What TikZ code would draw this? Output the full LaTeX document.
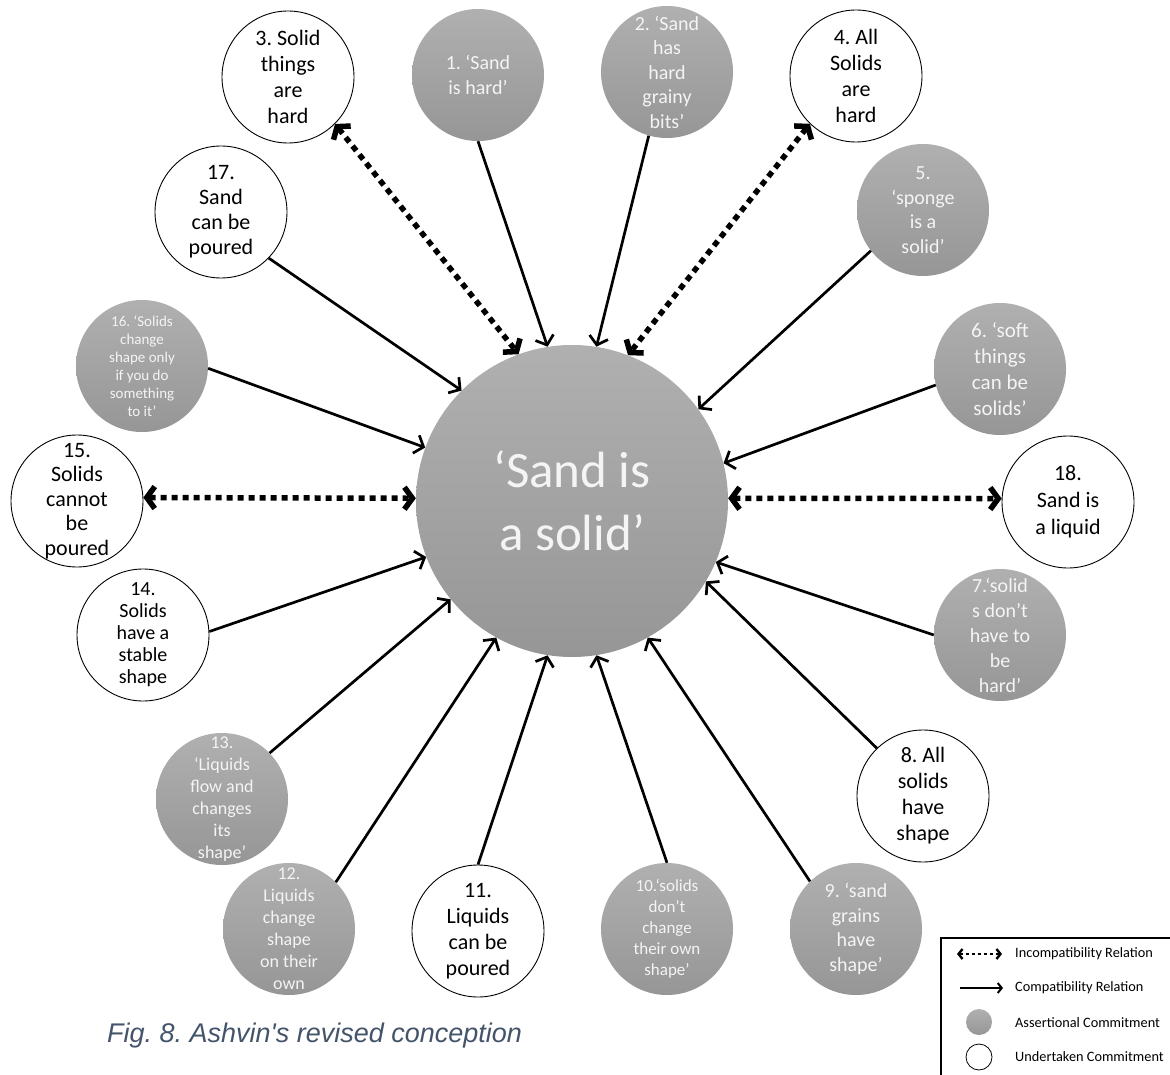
\documentclass[tikz,border=0pt]{standalone}
\usepackage{fontspec}
\setmainfont{Carlito}
\newfontfamily\capfont{Liberation Sans}
\usetikzlibrary{arrows.meta}
\definecolor{gtop}{HTML}{B0B0B0}
\definecolor{gbot}{HTML}{969696}
\definecolor{wtx}{HTML}{F4F4F4}
\definecolor{capcol}{HTML}{44546A}
\frenchspacing
\tikzset{
  base/.style={circle, minimum size=132pt, inner sep=0pt},
  assert/.style={base, top color=gtop, bottom color=gbot, draw=none},
  under/.style={base, draw=black, line width=0.9pt, fill=white},
  wtxt/.style={text=wtx, align=center, inner sep=0pt},
  btxt/.style={text=black, align=center, inner sep=0pt},
  comp/.style={line width=2.7pt, -{Straight Barb[length=8pt,width=19pt]}},
  incomp/.style={line width=5.5pt, dash pattern=on 6pt off 5pt,
     {Straight Barb[length=8pt,width=22pt]}-{Straight Barb[length=8pt,width=22pt]}},
  legtxt/.style={anchor=west, inner sep=0pt, font=\fontsize{14.3}{17}\selectfont},
}
\begin{document}
\begin{tikzpicture}[x=1pt,y=-1pt]
\useasboundingbox (0,0) rectangle (1170,1075);
\clip (0,0) rectangle (1170,1075);
\fill[white] (0,0) rectangle (1170,1075);

% central
\node[assert, minimum size=312pt, label={[wtxt, font=\fontsize{51}{63}\selectfont]center:{‘Sand is\\a solid’}}] (c) at (572,501) {};

% assertional (grey)
\node[assert, label={[wtxt, font=\fontsize{20}{24.5}\selectfont]center:{1. ‘Sand\\is hard’}}] (n1) at (478,75) {};
\node[assert, label={[wtxt, font=\fontsize{20}{24.5}\selectfont]center:{2. ‘Sand\\has\\hard\\grainy\\bits’}}] (n2) at (667,72) {};
\node[assert, label={[wtxt, font=\fontsize{20}{24.5}\selectfont]center:{5.\\‘sponge\\is a\\solid’}}] (n5) at (923,210) {};
\node[assert, label={[wtxt, font=\fontsize{21}{26}\selectfont]center:{6. ‘soft\\things\\can be\\solids’}}] (n6) at (1000,369) {};
\node[assert, label={[wtxt, font=\fontsize{20}{25}\selectfont]center:{7.‘solid\\s don’t\\have to\\be\\hard’}}] (n7) at (1000,635) {};
\node[assert, label={[wtxt, font=\fontsize{20}{24.5}\selectfont]center:{9. ‘sand\\grains\\have\\shape’}}] (n9) at (856,929) {};
\node[assert, label={[wtxt, font=\fontsize{17}{21}\selectfont]center:{10.‘solids\\don’t\\change\\their own\\shape’}}] (n10) at (667,929) {};
\node[assert, label={[wtxt, font=\fontsize{18}{22}\selectfont]center:{12.\\Liquids\\change\\shape\\on their\\own}}] (n12) at (289,929) {};
\node[assert, label={[wtxt, font=\fontsize{18}{22}\selectfont]center:{13.\\‘Liquids\\flow and\\changes\\its\\shape’}}] (n13) at (222,799) {};
\node[assert, label={[wtxt, font=\fontsize{15}{18}\selectfont]center:{16. ‘Solids\\change\\shape only\\if you do\\something\\to it’}}] (n16) at (142,366) {};

% undertaken (white)
\node[under, label={[btxt, font=\fontsize{22}{26}\selectfont]center:{3. Solid\\things\\are\\hard}}] (n3) at (288,77) {};
\node[under, label={[btxt, font=\fontsize{22}{26}\selectfont]center:{4. All\\Solids\\are\\hard}}] (n4) at (856,76) {};
\node[under, label={[btxt, font=\fontsize{22}{26}\selectfont]center:{8. All\\solids\\have\\shape}}] (n8) at (923,796) {};
\node[under, label={[btxt, font=\fontsize{22}{26}\selectfont]center:{11.\\Liquids\\can be\\poured}}] (n11) at (478,931) {};
\node[under, label={[btxt, font=\fontsize{20}{22}\selectfont]center:{14.\\Solids\\have a\\stable\\shape}}] (n14) at (143,635) {};
\node[under, label={[btxt, font=\fontsize{22}{24.5}\selectfont]center:{15.\\Solids\\cannot\\be\\poured}}] (n15) at (77,501) {};
\node[under, label={[btxt, font=\fontsize{22}{25}\selectfont]center:{17.\\Sand\\can be\\poured}}] (n17) at (221,212) {};
\node[under, label={[btxt, font=\fontsize{22}{27}\selectfont]center:{18.\\Sand is\\a liquid}}] (n18) at (1068,502) {};

% compatibility relations
\draw[comp] (n1.270) -- (c.99);
\draw[comp] (n2.254) -- (c.81);
\draw[comp] (n5.218) -- (c.36);
\draw[comp] (n6.194) -- (c.14);
\draw[comp] (n7.180) -- (c.-23);
\draw[comp] (n8.134) -- (c.-31);
\draw[comp] (n9.134) -- (c.-61);
\draw[comp] (n10.90) -- (c.-81);
\draw[comp] (n11.90) -- (c.-99);
\draw[comp] (n12.45) -- (c.241);
\draw[comp] (n13.44) -- (c.219);
\draw[comp] (n14.3) -- (c.201);
\draw[comp] (n16.-2) -- (c.160);
\draw[comp] (n17.-44) -- (c.135);

% incompatibility relations
\draw[incomp] (n3.-45) -- (c.110);
\draw[incomp] (n4.226) -- (c.69);
\draw[incomp] (n15.3) -- (c.179);
\draw[incomp] (c.1) -- (n18.177);

% legend
\draw[line width=1.2pt] (941,938) rectangle (1190,1095);
\coordinate (la1) at (957,954);
\coordinate (la2) at (1002,954);
\draw[line width=2.4pt, dash pattern=on 3pt off 3pt,
  {Straight Barb[length=4pt,width=10pt]}-{Straight Barb[length=4pt,width=10pt]}] (la1) -- (la2);
\coordinate (lb1) at (960,988);
\coordinate (lb2) at (1003,988);
\draw[line width=2pt, -{Straight Barb[length=4pt,width=10pt]}] (lb1) -- (lb2);
\node[assert, minimum size=26pt] (lc) at (979,1022) {};
\node[under, minimum size=26pt, line width=0.8pt] (ld) at (979,1057) {};
\node[legtxt] (t1) at (1015,954) {Incompatibility Relation};
\node[legtxt] (t2) at (1015,988) {Compatibility Relation};
\node[legtxt] (t3) at (1015,1023) {Assertional Commitment};
\node[legtxt] (t4) at (1015,1057) {Undertaken Commitment};

% caption
\node[anchor=base west, inner sep=0pt, text=capcol, font=\fontsize{27}{32}\capfont\itshape] (cap) at (107,1042) {Fig. 8. Ashvin's revised conception};
\end{tikzpicture}
\end{document}
